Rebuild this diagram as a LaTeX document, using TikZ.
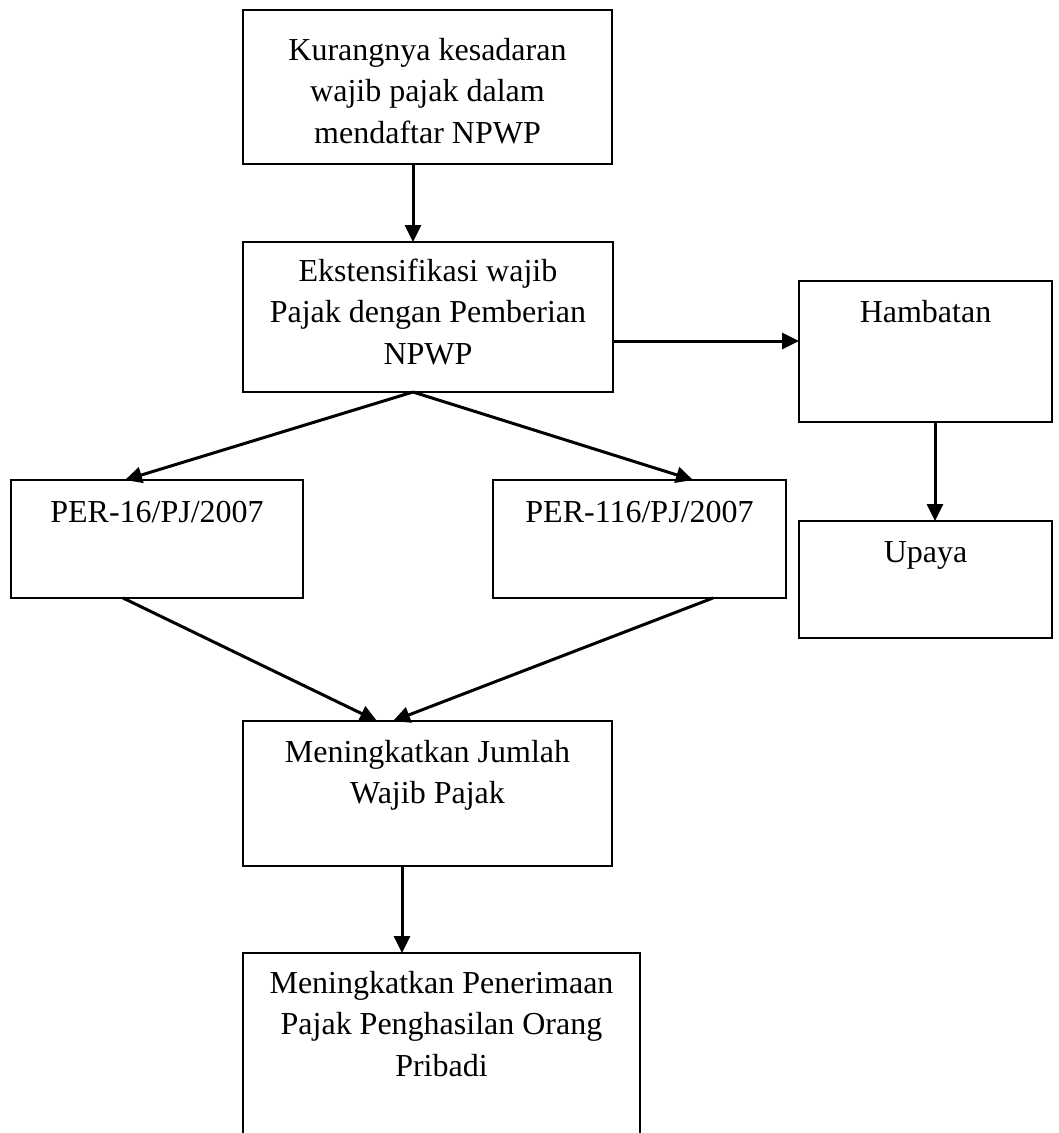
\documentclass[tikz,border=0pt]{standalone}
\usepackage{fontspec}
\setmainfont{Liberation Serif}
\usetikzlibrary{arrows.meta}
\newcommand{\bxt}[4]{\parbox[t][#2][t]{#1}{\centering\vspace*{#3}\rule{0pt}{29pt}#4}}
\begin{document}
\begin{tikzpicture}[x=1pt,y=-1pt,
  box/.style={draw, line width=2.3pt, rectangle, inner sep=0pt, outer sep=0pt, anchor=north west,
    font=\fontsize{32}{41.5}\selectfont},
  arr/.style={line width=3pt, -{Triangle[length=17pt,width=16pt]}}]
\useasboundingbox (0,0) rectangle (1059,1133);
\clip (0,0) rectangle (1059,1133);
\fill[white] (0,0) rectangle (1059,1133);

\node[box] (a) at (243,10) {\bxt{369pt}{154pt}{21pt}{Kurangnya kesadaran\\wajib pajak dalam\\mendaftar NPWP}};
\node[box] (b) at (243,242) {\bxt{370pt}{150pt}{10pt}{Ekstensifikasi wajib\\Pajak dengan Pemberian\\NPWP}};
\node[box] (h) at (799,281) {\bxt{253pt}{141pt}{12pt}{Hambatan}};
\node[box] (u) at (799,521) {\bxt{253pt}{117pt}{12pt}{Upaya}};
\node[box] (p1) at (11,480) {\bxt{292pt}{118pt}{13pt}{PER-16/PJ/2007}};
\node[box] (p2) at (493,480) {\bxt{293pt}{118pt}{13pt}{PER-116/PJ/2007}};
\node[box] (j) at (243,721) {\bxt{369pt}{145pt}{12pt}{Meningkatkan Jumlah\\Wajib Pajak}};
\node[box] (f) at (243,953) {\bxt{397pt}{220pt}{11pt}{Meningkatkan Penerimaan\\Pajak Penghasilan Orang\\Pribadi}};

\coordinate (as) at ([xshift=-14.5pt]a.south);
\draw[arr] (as) -- (as |- b.north);
\coordinate (be) at ([yshift=-24pt]b.east);
\draw[arr] (be) -- (be -| h.west);
\coordinate (bs) at ([xshift=-15pt]b.south);
\draw[arr] (bs) -- ([xshift=-32pt]p1.north);
\draw[arr] (bs) -- ([xshift=53.5pt]p2.north);
\coordinate (hs) at ([xshift=9.5pt]h.south);
\draw[arr] (hs) -- (hs |- u.north);
\draw[arr] ([xshift=-34pt]p1.south) -- ([xshift=-50.5pt]j.north);
\draw[arr] ([xshift=73.5pt]p2.south) -- ([xshift=-34.5pt]j.north);
\coordinate (js) at ([xshift=-25.5pt]j.south);
\draw[arr] (js) -- (js |- f.north);
\end{tikzpicture}
\end{document}
